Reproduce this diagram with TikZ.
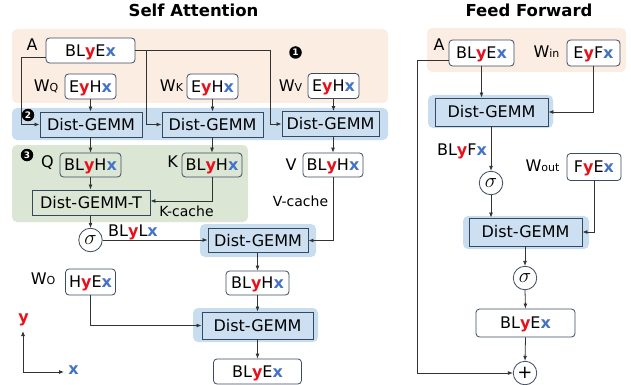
\documentclass[tikz,border=0pt]{standalone}
\usepackage{fontspec}
\setmainfont{DejaVu Sans}
\usetikzlibrary{arrows.meta,calc}
\definecolor{orangebg}{HTML}{FCEDE3}
\definecolor{bluebg}{HTML}{C9DDF0}
\definecolor{greenbg}{HTML}{DCE6D5}
\definecolor{gemfill}{HTML}{CDE0F2}
\definecolor{gembord}{HTML}{34495E}
\definecolor{tbord}{HTML}{3E4C63}
\definecolor{yred}{HTML}{E8101A}
\definecolor{xblue}{HTML}{4472C4}
\definecolor{conncol}{HTML}{333333}
\newcommand{\myY}{\textcolor{yred}{\textbf{y}}}
\newcommand{\myX}{\textcolor{xblue}{\textbf{x}}}
\newcommand{\Wsub}[1]{W{\fontsize{11}{12}\selectfont #1}}
\newcommand{\mysig}{\fontsize{21}{21}\selectfont$\sigma$}
\begin{document}
\begin{tikzpicture}[x=1pt,y=-1pt,
  font=\fontsize{16}{19}\selectfont,
  tbox/.style={draw=tbord, rounded corners=3.5pt, fill=white, line width=0.8pt,
     text height=11.7pt, text depth=0pt, inner xsep=1pt, inner ysep=0pt},
  gbox/.style={draw=gembord, fill=gemfill, line width=0.9pt,
     text height=11.7pt, text depth=0pt, inner sep=0pt},
  lbl/.style={text height=11.7pt, text depth=0pt, inner sep=0pt},
  opc/.style={circle, draw=tbord, fill=white, line width=0.8pt, minimum size=23.5pt, inner sep=0pt},
  bullet/.style={circle, fill=black, text=white, font=\bfseries\fontsize{9}{9}\selectfont, minimum size=12.5pt, inner sep=0pt},
  conn/.style={draw=conncol, line width=0.8pt, -{Latex[length=5pt,width=4pt]}},
  glow/.style={fill=bluebg, rounded corners=5pt},
  ttl/.style={font=\bfseries\fontsize{16.5}{19}\selectfont, inner sep=0pt, text height=12pt, text depth=0pt}
]
\useasboundingbox (0,0) rectangle (631,385);

% ---------- backgrounds ----------
\fill[orangebg, rounded corners=5pt] (12,29) rectangle (388,103);
\fill[bluebg, rounded corners=5pt] (12,108) rectangle (388,140);
\fill[greenbg, rounded corners=5pt] (12,145) rectangle (248,222);
\fill[glow] (200,224) rectangle (316,257);
\fill[glow] (193,308) rectangle (318,342);
\fill[orangebg, rounded corners=5pt] (427,28) rectangle (626,72);
\fill[glow] (428,95) rectangle (553,128);
\fill[glow] (463,216) rectangle (589,249);

% ---------- titles ----------
\node[ttl] (t1) at (193.5,11) {Self Attention};
\node[ttl] (t2) at (529,11) {Feed Forward};

% ---------- self attention nodes ----------
\node[bullet] (b1) at (295.5,52.5) {1};
\node[bullet] (b2) at (28,115) {2};
\node[bullet] (b3) at (27,155) {3};

\node[lbl] (lA) at (32,45) {A};
\node[tbox, minimum width=89pt, minimum height=25pt] (nA) at (90.5,50.5) {BL\myY E\myX};

\node[lbl] (lWQ) at (46,86) {\Wsub{Q}};
\node[tbox, minimum width=51pt, minimum height=25pt] (nWQ) at (90.5,86.5) {E\myY H\myX};
\node[lbl] (lWK) at (171.5,86) {\Wsub{K}};
\node[tbox, minimum width=51pt, minimum height=25pt] (nWK) at (212.5,86.5) {E\myY H\myX};
\node[lbl] (lWV) at (290.5,86) {\Wsub{V}};
\node[tbox, minimum width=51pt, minimum height=25pt] (nWV) at (333.5,86) {E\myY H\myX};

\node[gbox, minimum width=102pt, minimum height=25pt] (dg1) at (91,124.5) {Dist-GEMM};
\node[gbox, minimum width=101pt, minimum height=25pt] (dg2) at (212.5,124.5) {Dist-GEMM};
\node[gbox, minimum width=97pt, minimum height=25pt] (dg3) at (330.5,124) {Dist-GEMM};

\node[lbl] (lQ) at (47.5,162) {Q};
\node[tbox, fill=greenbg, minimum width=61pt, minimum height=24pt] (nQ) at (90.5,165) {BL\myY H\myX};
\node[lbl] (lK) at (172.5,162) {K};
\node[tbox, fill=greenbg, minimum width=60pt, minimum height=24pt] (nK) at (212,165) {BL\myY H\myX};
\node[lbl] (lV) at (291,165) {V};
\node[tbox, minimum width=60pt, minimum height=24pt] (nV) at (333,165) {BL\myY H\myX};

\node[gbox, fill=greenbg, minimum width=118pt, minimum height=25pt] (dgT) at (91,202.5) {Dist-GEMM-T};
\node[lbl, font=\fontsize{14}{16}\selectfont] (lKc) at (186.5,211) {K-cache};
\node[lbl, font=\fontsize{14}{16}\selectfont] (lVc) at (300.5,201) {V-cache};

\node[opc] (s1) at (90.5,240) {\mysig};
\node[lbl] (lBLL) at (133,230.5) {BL\myY L\myX};
\node[gbox, minimum width=100pt, minimum height=24pt] (dg4) at (258,240.5) {Dist-GEMM};

\node[tbox, minimum width=63pt, minimum height=24pt] (nBH) at (257.5,283) {BL\myY H\myX};
\node[lbl] (lWO) at (43,279) {\Wsub{O}};
\node[tbox, minimum width=50pt, minimum height=26pt] (nHE) at (90.5,282) {H\myY E\myX};

\node[gbox, minimum width=111pt, minimum height=27pt] (dg5) at (257.5,325.5) {Dist-GEMM};
\node[tbox, minimum width=88pt, minimum height=25pt] (nOut) at (257.5,371.5) {BL\myY E\myX};

% axes
\coordinate (org) at (23,372);
\node[inner sep=0pt, font=\bfseries\fontsize{16}{19}\selectfont, text=yred] (ay) at (23.5,320) {y};
\node[inner sep=0pt, font=\bfseries\fontsize{16}{19}\selectfont, text=xblue] (ax) at (73.5,370) {x};
\draw[conn] (org) -- (23,331);
\draw[conn] (org) -- (64,372);

% ---------- self attention connectors ----------
\draw[conn] ([yshift=-6.5pt]nA.west) -- ++(-24,0) |- (dg1.west);
\draw[conn] (nA.east) -| ($(dg2.west)+(-15,0)$) -- (dg2.west);
\draw[conn] (nA.east) -| ($(dg3.west)+(-11,0)$) -- (dg3.west);
\draw[conn] (nWQ.south) -- (nWQ.south |- dg1.north);
\draw[conn] (nWK.south) -- (nWK.south |- dg2.north);
\draw[conn] (nWV.south) -- (nWV.south |- dg3.north);
\draw[conn] (nQ.north |- dg1.south) -- (nQ.north);
\draw[conn] (nK.north |- dg2.south) -- (nK.north);
\draw[conn] (nV.north |- dg3.south) -- (nV.north);
\draw[conn] (nQ.south) -- (nQ.south |- dgT.north);
\draw[conn] (nK.south) |- ($(dgT.east)+(0,-1.5)$);
\draw[conn] (s1.north |- dgT.south) -- (s1.north);
\draw[conn] (s1.east) -- (s1.east -| dg4.west);
\draw[conn] (nV.south) |- (dg4.east);
\draw[conn] (nBH.north |- dg4.south) -- (nBH.north);
\draw[conn] (nBH.south) -- (nBH.south |- dg5.north);
\draw[conn] (nHE.south) |- (dg5.west);
\draw[conn] (nOut.north |- dg5.south) -- (nOut.north);

% ---------- feed forward nodes ----------
\node[lbl] (lFA) at (439,45) {A};
\node[tbox, minimum width=65pt, minimum height=26pt] (nFA) at (481.5,53) {BL\myY E\myX};
\node[lbl] (lWin) at (546.5,51.5) {\Wsub{in}};
\node[tbox, minimum width=53pt, minimum height=26pt] (nWin) at (593.5,53) {E\myY F\myX};

\node[gbox, minimum width=113pt, minimum height=28pt] (ff1) at (491.5,112) {Dist-GEMM};
\node[lbl] (lBLF) at (462,150) {BL\myY F\myX};
\node[opc] (sf1) at (491,183) {\mysig};
\node[lbl] (lWout) at (542.5,165.5) {\Wsub{out}};
\node[tbox, minimum width=54pt, minimum height=27pt] (nWout) at (594,167) {F\myY E\myX};

\node[gbox, minimum width=113pt, minimum height=28pt] (ff2) at (525.5,232) {Dist-GEMM};
\node[opc] (sf2) at (525,278) {\mysig};
\node[tbox, minimum width=99pt, minimum height=28pt] (nFout) at (525.5,323) {BL\myY E\myX};
\node[opc] (plus) at (525,373) {\fontsize{18}{18}\selectfont +};

% ---------- feed forward connectors ----------
\draw[conn] ([yshift=-7pt]nFA.west) -- ++(-31,0) |- (plus.west);
\draw[conn] (nFA.south) -- (nFA.south |- ff1.north);
\draw[conn] (nWin.south) |- (ff1.east);
\draw[conn] (sf1.north |- ff1.south) -- (sf1.north);
\draw[conn] (sf1.south) -- (sf1.south |- ff2.north);
\draw[conn] (nWout.south) |- (ff2.east);
\draw[conn] (sf2.north |- ff2.south) -- (sf2.north);
\draw[conn] (sf2.south) -- (nFout.north);
\draw[conn] (nFout.south) -- (plus.north);
\end{tikzpicture}
\end{document}
